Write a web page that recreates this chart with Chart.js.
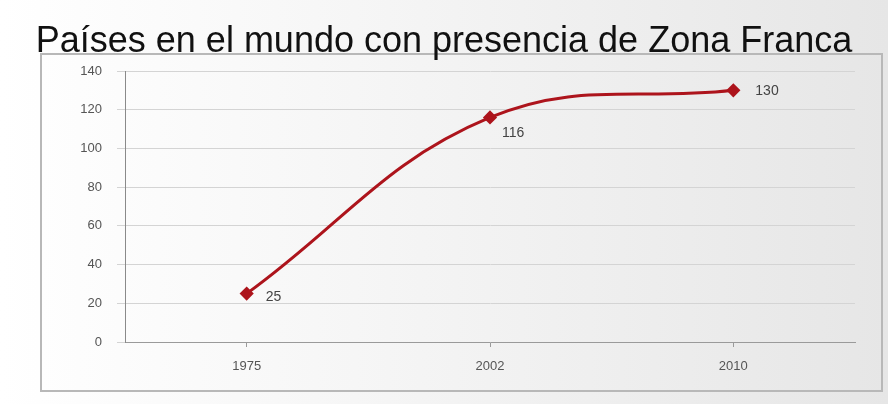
<!DOCTYPE html>
<html lang="es">
<head>
<meta charset="utf-8">
<title>Zona Franca</title>
<script src="https://cdn.jsdelivr.net/npm/chart.js@4/dist/chart.umd.min.js"></script>
<style>
  html, body { margin: 0; padding: 0; }
  body {
    width: 888px; height: 404px; overflow: hidden;
    background: linear-gradient(to right, #ffffff 0%, #f6f6f6 40%, #e6e6e6 100%);
  }
  #wrap { position: relative; width: 888px; height: 404px; }
</style>
</head>
<body>
<div id="wrap"><canvas id="zonaChart" width="888" height="404"></canvas></div>
<script>
// datos de la serie
const years = ["1975", "2002", "2010"];
const countries = [25, 116, 130];
const yTicks = [0, 20, 40, 60, 80, 100, 120, 140];

const lineRed = "#ad141c";
const labelGray = "#555555";

// marco gris alrededor del grafico
const framePlugin = {
    id: "frame",
    beforeDraw(chart) {
        const ctx = chart.ctx;
        ctx.save();
        ctx.strokeStyle = "#b8b8b8";
        ctx.lineWidth = 2;
        ctx.strokeRect(41, 54, 841, 337);
        ctx.restore();
    }
};

// etiquetas con el valor de cada punto
const valueLabels = {
    id: "valueLabels",
    afterDatasetsDraw(chart) {
        const ctx = chart.ctx;
        const meta = chart.getDatasetMeta(0);
        const offsets = [[19, 4], [12, 16], [22, 1]];
        ctx.save();
        ctx.font = "14px 'Liberation Sans', Arial, sans-serif";
        ctx.fillStyle = "#444444";
        ctx.textBaseline = "middle";
        meta.data.forEach(function (pt, i) {
            ctx.fillText(String(countries[i]), pt.x + offsets[i][0], pt.y + offsets[i][1]);
        });
        ctx.restore();
    }
};

new Chart("zonaChart", {
    type: "line",
    data: {
        labels: years,
        datasets: [{
            data: countries,
            borderColor: lineRed,
            backgroundColor: lineRed,
            borderWidth: 3,
            tension: 0.4,
            pointStyle: "rectRot",
            pointRadius: 5,
            pointBackgroundColor: lineRed,
            pointBorderColor: lineRed
        }]
    },
    options: {
        responsive: false,
        animation: false,
        layout: { padding: { left: 33, right: 33, top: 0, bottom: 0 } },
        plugins: {
            legend: { display: false },
            tooltip: { enabled: false },
            title: {
                display: true,
                text: "Países en el mundo con presencia de Zona Franca",
                color: "#111111",
                font: { family: "'Liberation Sans', Arial, sans-serif", size: 36, weight: "normal", lineHeight: 1.0 },
                padding: { top: 24, bottom: 11 }
            }
        },
        scales: {
            x: {
                type: "category",
                offset: true,
                grid: { display: true, drawOnChartArea: false, tickLength: 5, color: "#9a9a9a" },
                border: { color: "#9a9a9a", width: 1 },
                ticks: { color: labelGray, padding: 12, font: { family: "'Liberation Sans', Arial, sans-serif", size: 13 } },
                afterFit(scale) { scale.height = 62; }
            },
            y: {
                min: 0,
                max: 140,
                afterBuildTicks(scale) { scale.ticks = yTicks.map(v => ({ value: v })); },
                grid: { color: "#d4d4d4", tickLength: 8 },
                border: { color: "#8a8a8a", width: 1 },
                ticks: { color: labelGray, padding: 15, font: { family: "'Liberation Sans', Arial, sans-serif", size: 13 } },
                afterFit(scale) { scale.width = 92; }
            }
        }
    },
    plugins: [framePlugin, valueLabels]
});
</script>
</body>
</html>
